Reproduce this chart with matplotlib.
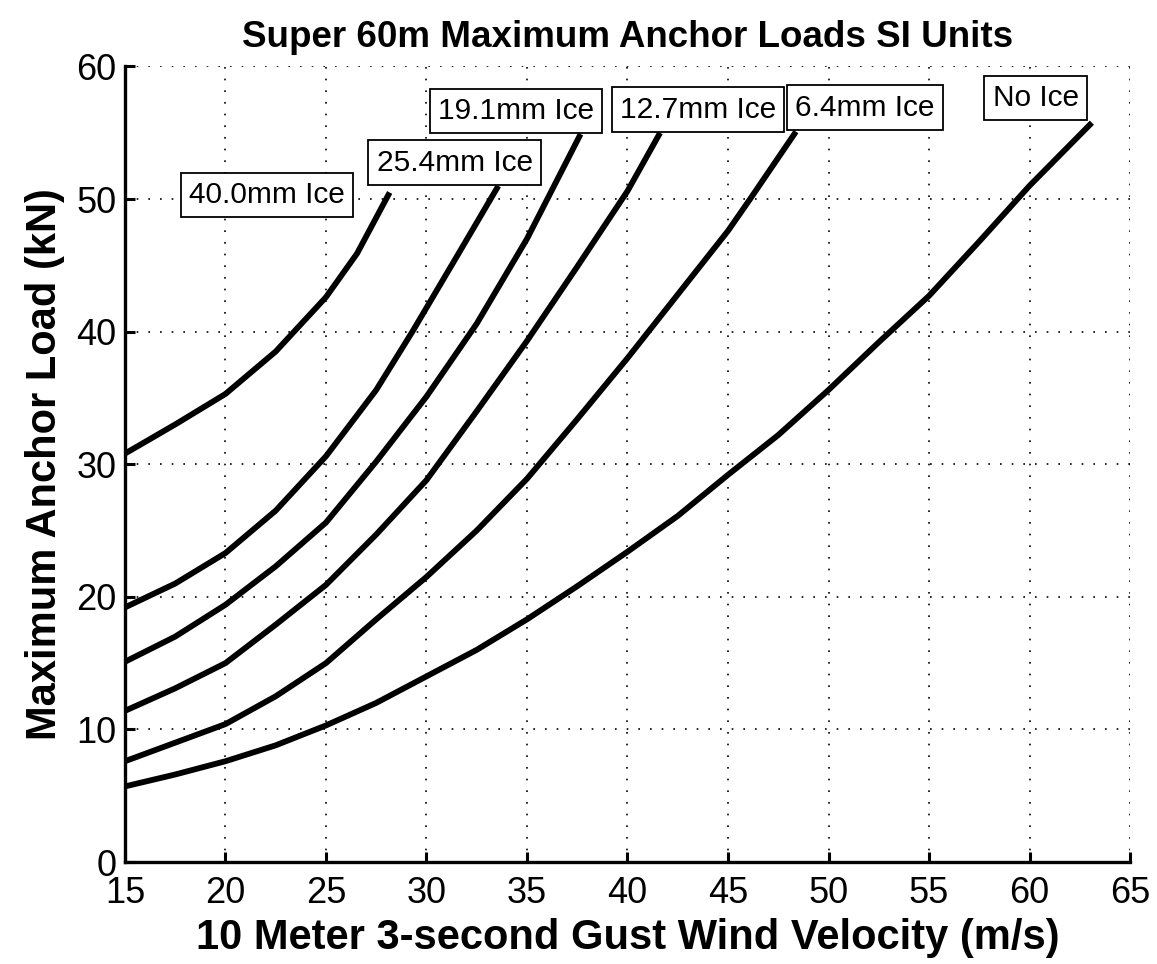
import matplotlib
matplotlib.use('Agg')
import matplotlib.pyplot as plt

plt.rcParams['font.family'] = ['Liberation Sans', 'DejaVu Sans']

# wind velocity (m/s) and max anchor load (kN)
wind_no_ice = [15, 17.5, 20, 22.5, 25, 27.5, 30, 32.5, 35, 37.5, 40, 42.5,
               45, 47.5, 50, 52.5, 55, 57.5, 60, 63]
load_no_ice = [5.7, 6.6, 7.6, 8.8, 10.3, 12.0, 14.0, 16.0, 18.3, 20.8, 23.4, 26.1,
               29.2, 32.2, 35.6, 39.2, 42.7, 46.8, 51.0, 55.6]

wind_6_4 = [15, 17.5, 20, 22.5, 25, 27.5, 30, 32.5, 35, 37.5, 40, 42.5, 45, 46.1, 48.3]
load_6_4 = [7.6, 9.0, 10.4, 12.5, 15.0, 18.3, 21.5, 25.0, 28.9, 33.4, 38.0, 42.8, 47.6, 50.0, 54.9]

wind_12_7 = [15, 17.5, 20, 22.5, 25, 27.5, 30, 32.5, 35, 37.5, 40, 41.55]
load_12_7 = [11.4, 13.1, 15.0, 17.9, 20.9, 24.7, 28.8, 34.0, 39.3, 44.9, 50.6, 54.8]

wind_19_1 = [15, 17.5, 20, 22.5, 25, 27.5, 30, 32.5, 35, 37.6]
load_19_1 = [15.1, 17.0, 19.4, 22.3, 25.6, 30.2, 35.1, 40.6, 47.0, 54.7]

wind_25_4 = [15, 17.5, 20, 22.5, 25, 27.5, 29.3, 31.6, 33.5]
load_25_4 = [19.2, 21.0, 23.3, 26.5, 30.6, 35.6, 40.0, 45.9, 50.8]

wind_40_0 = [15, 17.5, 20, 22.5, 25, 26.55, 28.1]
load_40_0 = [30.8, 33.0, 35.3, 38.5, 42.6, 45.9, 50.3]

labels = ['No Ice', '6.4mm Ice', '12.7mm Ice', '19.1mm Ice', '25.4mm Ice', '40.0mm Ice']
# where each label box sits (data coords)
label_xy = [(60.3, 57.65), (51.8, 56.9), (43.5, 56.75), (34.45, 56.65),
            (31.4, 52.75), (22.05, 50.3)]

curves = [(wind_no_ice, load_no_ice), (wind_6_4, load_6_4), (wind_12_7, load_12_7),
          (wind_19_1, load_19_1), (wind_25_4, load_25_4), (wind_40_0, load_40_0)]

fig = plt.figure(figsize=(11.57, 9.64), dpi=100)
ax = fig.add_axes([0.108, 0.1058, 0.8687, 0.8253])

for x, y in curves:
    ax.plot(x, y, color='black', linewidth=4.2, zorder=3)

for txt, (tx, ty) in zip(labels, label_xy):
    ax.text(tx, ty, txt, fontsize=21.5, ha='center', va='center', zorder=5,
            bbox=dict(boxstyle='square,pad=0.27', fc='white', ec='black', lw=1.3))

ax.set_xlim(15, 65)
ax.set_ylim(0, 60)
ax.set_xticks(range(15, 66, 5))
ax.set_yticks(range(0, 61, 10))
ax.grid(True, color='black', linestyle=(0, (1, 6)), linewidth=1.2)
ax.set_axisbelow(True)

for side in ['top', 'right']:
    ax.spines[side].set_visible(False)
for side in ['left', 'bottom']:
    ax.spines[side].set_linewidth(2.4)

ax.tick_params(direction='in', length=7, width=2.2, labelsize=26)
ax.tick_params(axis='x', pad=10)
ax.tick_params(axis='y', pad=6)

ax.set_title('Super 60m Maximum Anchor Loads SI Units', fontsize=26.5,
             fontweight='bold', pad=14)
ax.set_xlabel('10 Meter 3-second Gust Wind Velocity (m/s)', fontsize=30,
              fontweight='bold', labelpad=5)
ax.set_ylabel('Maximum Anchor Load (kN)', fontsize=30, fontweight='bold', labelpad=8)

fig.savefig('out.png', dpi=100)
